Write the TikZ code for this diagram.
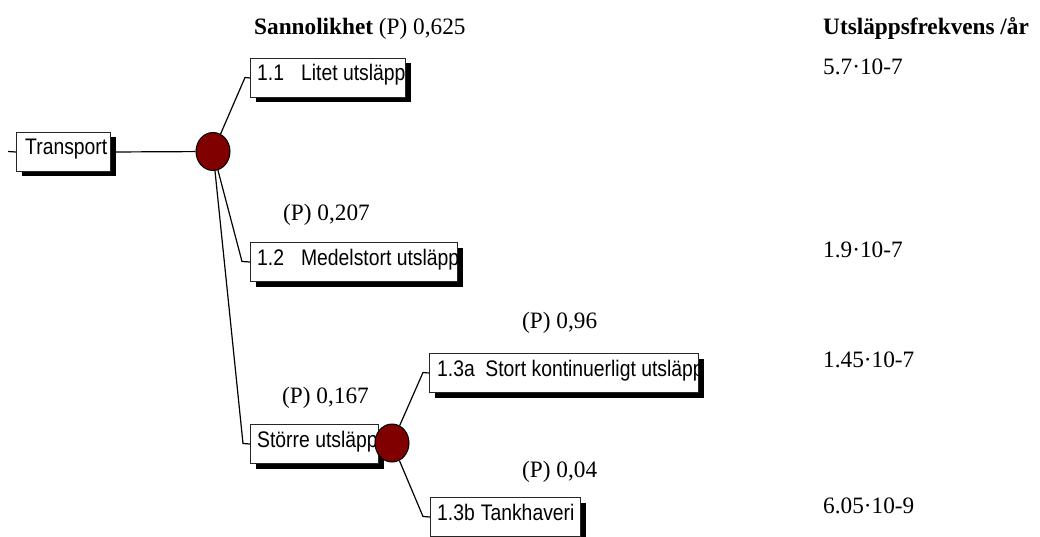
\documentclass[tikz,border=0pt]{standalone}
\usepackage{fontspec}
\usetikzlibrary{shapes.geometric,shadows}
\newfontfamily\serifA[FakeStretch=0.99]{Liberation Serif}
\newfontfamily\sansA[FakeStretch=0.86]{Liberation Sans}
\definecolor{chancered}{RGB}{128,0,0}
\begin{document}
\begin{tikzpicture}[x=1pt,y=-1pt,
  evbox/.style={draw=black!85, line width=1pt, fill=white, minimum height=39pt,
    inner sep=0pt, anchor=north west,
    drop shadow={shadow xshift=5pt,shadow yshift=-5pt,opacity=1,fill=black}},
  btext/.style={font=\sansA\fontsize{22.5}{26}\selectfont, inner sep=0pt, anchor=base west},
  lbl/.style={font=\serifA\fontsize{23.5}{27}\selectfont, inner sep=0pt, anchor=base west},
  chnode/.style={ellipse, draw=black, line width=1pt, fill=chancered,
    minimum width=34pt, minimum height=38pt, inner sep=0pt},
  conn/.style={draw=black, line width=1.2pt}]
\useasboundingbox (0,0) rectangle (1040,537);

% event boxes
\node[evbox, minimum width=94pt]  (tr)   at (16,132) {};
\node[evbox, minimum width=155pt] (b11)  at (250,58) {};
\node[evbox, minimum width=207pt] (b12)  at (250,242) {};
\node[evbox, minimum width=128pt] (bst)  at (250,424) {};
\node[evbox, minimum width=269pt] (b13a) at (429,353) {};
\node[evbox, minimum width=150pt] (b13b) at (430,497) {};

% box texts (clipped to the boxes)
\begin{scope}\clip (tr.south west) rectangle (tr.north east);
  \node[btext] (ttr) at (25,155) {Transport};\end{scope}
\begin{scope}\clip (b11.south west) rectangle (b11.north east);
  \node[btext] (t11) at (257,81) {1.1\hspace{17pt}Litet utsläpp};\end{scope}
\begin{scope}\clip (b12.south west) rectangle (b12.north east);
  \node[btext] (t12) at (257,265) {1.2\hspace{17pt}Medelstort utsläpp};\end{scope}
\begin{scope}\clip (bst.south west) rectangle (bst.north east);
  \node[btext] (tst) at (257,447) {Större utsläpp};\end{scope}
\begin{scope}\clip (b13a.south west) rectangle (b13a.north east);
  \node[btext] (t13a) at (437,376) {1.3a\hspace{10.5pt}Stort kontinuerligt utsläpp};\end{scope}
\begin{scope}\clip (b13b.south west) rectangle (b13b.north east);
  \node[btext] (t13b) at (437,520) {1.3b\hspace{6pt}Tankhaveri};\end{scope}

% chance nodes
\node[chnode] (c1) at (213,151.5) {};
\node[chnode] (c2) at (392,443) {};

% connector bends
\coordinate (tl)   at (8,151.5);
\coordinate (e11)  at (245,77.5);
\coordinate (e12)  at (242,261.5);
\coordinate (est)  at (243,443.5);
\coordinate (e13a) at (423,372.5);
\coordinate (e13b) at (423,516.5);

\draw[conn] (tl) -- (tr.west);
\draw[conn] (tr.east) -- (c1);
\draw[conn] (c1) -- (e11) -- (b11.west);
\draw[conn] (c1) -- (e12) -- (b12.west);
\draw[conn] (c1) -- (est) -- (bst.west);
\draw[conn] (c2) -- (e13a) -- (b13a.west);
\draw[conn] (c2) -- (e13b) -- (b13b.west);

% probability labels
\node[lbl] (hdr)  at (254,35)  {{\bfseries Sannolikhet} (P) 0,625};
\node[lbl] (p207) at (283,221) {(P) 0,207};
\node[lbl] (p96)  at (522,328) {(P) 0,96};
\node[lbl] (p167) at (282,403) {(P) 0,167};
\node[lbl] (p04)  at (522,477) {(P) 0,04};

% frequency column
\node[lbl] (hdr2) at (823,35)  {\bfseries Utsläppsfrekvens /år};
\node[lbl] (f1)   at (823,75)  {5.7·10-7};
\node[lbl] (f2)   at (823,257) {1.9·10-7};
\node[lbl] (f3)   at (823,367) {1.45·10-7};
\node[lbl] (f4)   at (823,513) {6.05·10-9};
\end{tikzpicture}
\end{document}
